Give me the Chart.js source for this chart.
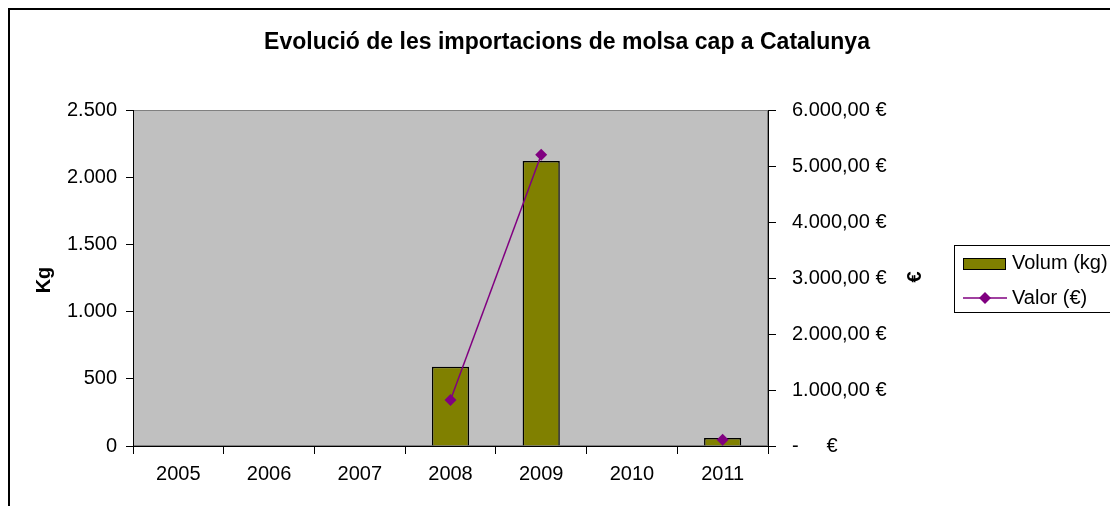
<!DOCTYPE html>
<html>
<head>
<meta charset="utf-8">
<script src="https://cdn.jsdelivr.net/npm/chart.js@4"></script>
<style>
  html, body { margin: 0; padding: 0; background: #fff; }
  #wrap { position: relative; width: 1110px; height: 506px; overflow: hidden; }
</style>
</head>
<body>
<div id="wrap"><canvas id="chart" width="1110" height="506"></canvas></div>
<script>
// dades llegides del gràfic
var years = ["2005", "2006", "2007", "2008", "2009", "2010", "2011"];
var volumKg = [null, null, null, 590, 2120, null, 60];
var valorEur = [null, null, null, 820, 5200, null, 110];
var kgTicks = [0, 500, 1000, 1500, 2000, 2500];
var eurTicks = [0, 1000, 2000, 3000, 4000, 5000, 6000];

var FONT = "'Liberation Sans', Arial, sans-serif";
var OLIVE = "#808000";
var PURPLE = "#800080";

function fmtKg(v) {
  return v.toString().replace(/\B(?=(\d{3})+(?!\d))/g, ".");
}
function fmtEur(v) {
  if (v === 0) return "-     €";
  return fmtKg(v) + ",00 €";
}

// fons gris, marc exterior, títols i llegenda
var decor = {
  id: "decor",
  beforeDraw: function (chart) {
    var c = chart.ctx, a = chart.chartArea;
    c.save();
    c.fillStyle = "#c0c0c0";
    c.fillRect(a.left, a.top, a.right - a.left, a.bottom - a.top);
    c.strokeStyle = "#808080";
    c.lineWidth = 1;
    c.strokeRect(a.left + 0.5, a.top + 0.5, a.right - a.left - 1, a.bottom - a.top - 1);
    // marc exterior
    c.strokeStyle = "#000";
    c.lineWidth = 2;
    c.beginPath();
    c.moveTo(9, 520);
    c.lineTo(9, 9);
    c.lineTo(1120, 9);
    c.stroke();
    c.restore();
  },
  afterDraw: function (chart) {
    var c = chart.ctx;
    c.save();
    c.fillStyle = "#000";
    c.textAlign = "center";
    c.textBaseline = "middle";
    c.font = "bold 23px " + FONT;
    c.fillText("Evolució de les importacions de molsa cap a Catalunya", 567, 43);

    c.font = "bold 20px " + FONT;
    c.translate(44, 280);
    c.rotate(-Math.PI / 2);
    c.fillText("Kg", 0, 0);
    c.setTransform(1, 0, 0, 1, 0, 0);
    c.translate(915, 277);
    c.rotate(-Math.PI / 2);
    c.fillText("€", 0, 0);
    c.setTransform(1, 0, 0, 1, 0, 0);

    // llegenda
    c.strokeStyle = "#000";
    c.lineWidth = 1;
    c.strokeRect(954.5, 245.5, 200, 67);
    c.fillStyle = OLIVE;
    c.fillRect(963, 258, 42, 11);
    c.strokeRect(963.5, 258.5, 42, 11);
    c.strokeStyle = PURPLE;
    c.lineWidth = 1.5;
    c.beginPath();
    c.moveTo(963, 298);
    c.lineTo(1007, 298);
    c.stroke();
    c.fillStyle = PURPLE;
    c.beginPath();
    c.moveTo(985, 292);
    c.lineTo(991, 298);
    c.lineTo(985, 304);
    c.lineTo(979, 298);
    c.closePath();
    c.fill();
    c.fillStyle = "#000";
    c.textAlign = "left";
    c.font = "20px " + FONT;
    c.fillText("Volum (kg)", 1012, 263);
    c.fillText("Valor (€)", 1012, 298);
    c.restore();
  }
};

new Chart(document.getElementById("chart"), {
  type: "bar",
  data: {
    labels: years,
    datasets: [
      {
        type: "line",
        label: "Valor (€)",
        data: valorEur,
        yAxisID: "y1",
        borderColor: PURPLE,
        backgroundColor: PURPLE,
        borderWidth: 1.5,
        pointStyle: "rectRot",
        pointRadius: 6,
        pointBorderWidth: 0,
        spanGaps: false,
        order: 0
      },
      {
        label: "Volum (kg)",
        data: volumKg,
        yAxisID: "y",
        backgroundColor: OLIVE,
        borderColor: "#000",
        borderWidth: 1.5,
        categoryPercentage: 1,
        barPercentage: 0.41,
        order: 1
      }
    ]
  },
  options: {
    responsive: false,
    animation: false,
    layout: { padding: { top: 110, left: 0, right: 0, bottom: 0 } },
    plugins: { legend: { display: false }, tooltip: { enabled: false } },
    scales: {
      x: {
        offset: true,
        grid: { offset: true, drawOnChartArea: false, tickLength: 8, color: "#000" },
        border: { color: "#000" },
        ticks: { color: "#000", font: { family: FONT, size: 20 }, padding: 8, maxRotation: 0 },
        afterFit: function (s) { s.height = 60; }
      },
      y: {
        position: "left",
        min: 0, max: 2500,
        afterBuildTicks: function (s) { s.ticks = kgTicks.map(function (v) { return { value: v }; }); },
        grid: { drawOnChartArea: false, tickLength: 7, color: "#000" },
        border: { color: "#000" },
        ticks: { color: "#000", font: { family: FONT, size: 20 }, padding: 9,
          callback: function (v) { return fmtKg(v); } },
        afterFit: function (s) { s.width = 133; }
      },
      y1: {
        position: "right",
        min: 0, max: 6000,
        afterBuildTicks: function (s) { s.ticks = eurTicks.map(function (v) { return { value: v }; }); },
        grid: { drawOnChartArea: false, tickLength: 8, color: "#000" },
        border: { color: "#000" },
        ticks: { color: "#000", font: { family: FONT, size: 20 }, padding: 16,
          callback: function (v) { return fmtEur(v); } },
        afterFit: function (s) { s.width = 1110 - 768; }
      }
    }
  },
  plugins: [decor]
});
</script>
</body>
</html>
